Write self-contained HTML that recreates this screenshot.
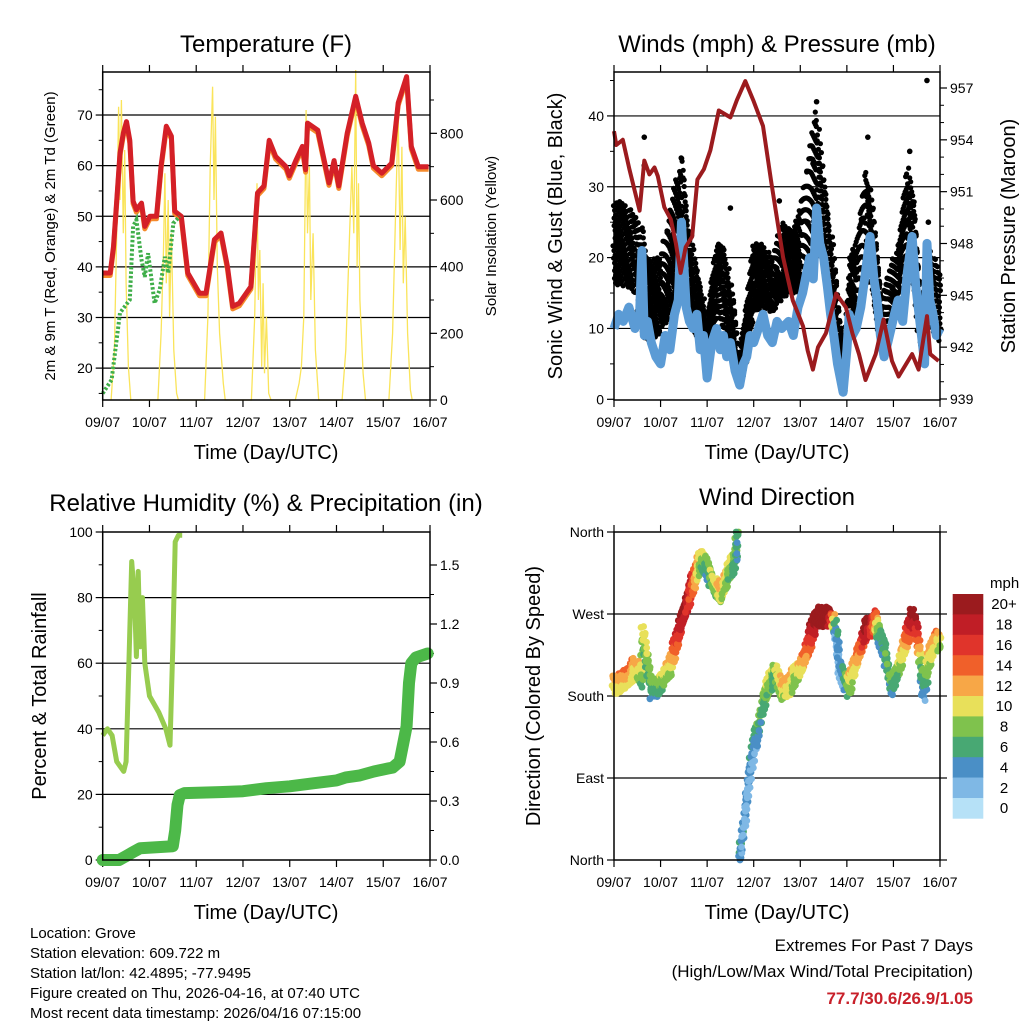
<!DOCTYPE html>
<html><head><meta charset="utf-8">
<style>
html,body{margin:0;padding:0;background:#fff;}
svg{display:block;font-family:"Liberation Sans",sans-serif;}
</style></head>
<body>
<svg id="fig" width="1024" height="1024" viewBox="0 0 1024 1024" xmlns="http://www.w3.org/2000/svg">
<rect x="0" y="0" width="1024" height="1024" fill="#fff"/>
<text x="266" y="52" font-size="24" text-anchor="middle">Temperature (F)</text>
<text x="777" y="52" font-size="24" text-anchor="middle">Winds (mph) &amp; Pressure (mb)</text>
<text x="266" y="511" font-size="24" text-anchor="middle">Relative Humidity (%) &amp; Precipitation (in)</text>
<text x="777" y="505" font-size="24" text-anchor="middle">Wind Direction</text>
<text x="266" y="459" font-size="20" text-anchor="middle">Time (Day/UTC)</text>
<text x="777" y="459" font-size="20" text-anchor="middle">Time (Day/UTC)</text>
<text x="266" y="919" font-size="20" text-anchor="middle">Time (Day/UTC)</text>
<text x="777" y="919" font-size="20" text-anchor="middle">Time (Day/UTC)</text>
<text transform="translate(55,236) rotate(-90)" font-size="15" text-anchor="middle">2m &amp; 9m T (Red, Orange) &amp; 2m Td (Green)</text>
<text transform="translate(496,236) rotate(-90)" font-size="15" text-anchor="middle">Solar Insolation (Yellow)</text>
<text transform="translate(562,236) rotate(-90)" font-size="20" text-anchor="middle">Sonic Wind &amp; Gust (Blue, Black)</text>
<text transform="translate(1015,236) rotate(-90)" font-size="20" text-anchor="middle">Station Pressure (Maroon)</text>
<text transform="translate(46,696) rotate(-90)" font-size="20" text-anchor="middle">Percent &amp; Total Rainfall</text>
<text transform="translate(540,696) rotate(-90)" font-size="20" text-anchor="middle">Direction (Colored By Speed)</text>
<text x="990" y="588" font-size="15">mph</text>
<g font-size="15">
<text x="30" y="938">Location: Grove</text>
<text x="30" y="958">Station elevation: 609.722 m</text>
<text x="30" y="978">Station lat/lon: 42.4895; -77.9495</text>
<text x="30" y="998">Figure created on Thu, 2026-04-16, at 07:40 UTC</text>
<text x="30" y="1018">Most recent data timestamp: 2026/04/16 07:15:00</text>
</g>
<text x="973" y="951" font-size="17" text-anchor="end">Extremes For Past 7 Days</text>
<text x="973" y="977" font-size="17" text-anchor="end">(High/Low/Max Wind/Total Precipitation)</text>
<text x="973" y="1004" font-size="17" font-weight="bold" fill="#c8202a" text-anchor="end">77.7/30.6/26.9/1.05</text>
<g id="layer"></g>
</svg>
<script>
// ---------- data ----------
const dayLabels = ["09/07","10/07","11/07","12/07","13/07","14/07","15/07","16/07"];
const tempT = [0,0.16,0.23,0.3,0.37,0.44,0.51,0.58,0.65,0.72,0.83,0.9,1.01,1.15,1.25,1.36,1.47,1.54,1.68,1.82,2.07,2.21,2.39,2.53,2.67,2.78,2.92,3.17,3.31,3.45,3.56,3.7,3.92,3.99,4.13,4.27,4.34,4.38,4.6,4.84,4.95,5.05,5.23,5.41,5.55,5.69,5.79,5.97,6.18,6.32,6.5,6.6,6.75,6.97];
const tempV = [38.8,38.8,44,53,62.5,66.4,68.7,65,53,51.3,52.6,48,50,50,60,67.8,65.8,51,50,38.8,34.8,34.8,45.4,46.7,40,32.2,32.8,36.1,54.6,56,65,61.8,59.8,58,61,63.8,59.2,68.4,67,56.6,61,56,66.4,73.7,68.4,64.5,60,58.5,60.5,72.4,77.6,63.8,59.8,59.8];
const dewT = [0,0.19,0.37,0.58,0.65,0.72,0.83,0.9,0.97,1.11,1.22,1.33,1.4,1.51,1.65];
const dewV = [15,17.7,30.9,33.5,48,49.3,41.4,38,42.7,32.8,35.5,42,38.8,48.6,50];
const solarT = [0.18,0.25,0.3,0.34,0.37,0.4,0.44,0.47,0.5,0.55,0.6, 1.18,1.25,1.3,1.33,1.36,1.4,1.43,1.47,1.52,1.58,1.62, 2.18,2.25,2.3,2.35,2.38,2.41,2.45,2.5,2.58,2.62, 3.18,3.25,3.3,3.33,3.36,3.4,3.43,3.46,3.5,3.55,3.6, 4.12,4.2,4.25,4.3,4.35,4.38,4.42,4.45,4.5,4.55,4.62, 5.12,5.2,5.28,5.33,5.37,5.41,5.44,5.47,5.5,5.57,5.62, 6.12,6.2,6.27,6.32,6.36,6.4,6.43,6.47,6.52,6.58,6.62];
const solarV = [0,150,500,880,600,900,500,750,350,100,0, 0,200,450,680,350,600,250,500,150,20,0, 0,250,700,940,600,850,400,200,50,0, 0,250,650,300,450,100,350,80,250,20,0, 0,50,100,250,870,500,700,300,500,150,0, 0,150,500,700,500,990,400,650,300,80,0, 0,200,600,850,450,760,350,550,200,30,0];
const presT = [0,0.05,0.19,0.33,0.55,0.65,0.76,0.87,0.94,1.08,1.22,1.33,1.43,1.54,1.68,1.79,1.93,2.07,2.25,2.5,2.64,2.82,2.99,3.2,3.38,3.63,3.84,4.06,4.16,4.27,4.38,4.55,4.77,4.98,5.12,5.26,5.4,5.62,5.79,5.97,6.11,6.4,6.54,6.72,6.79,6.97];
const presV = [954.5,953.7,954,952.3,949.9,952.8,952,952.4,951.9,950.1,949.4,948,946.3,947.8,948.4,951.7,952.3,953.4,955.7,955.3,956.3,957.4,956.3,954.8,951.5,947.2,944.7,943.2,941.8,940.7,942,942.8,945.1,944.3,942.8,941.6,940.1,941.6,943.6,941.2,940.3,941.6,940.7,943.8,941.6,941.2];
const windT = [0,0.1,0.2,0.32,0.45,0.55,0.6,0.65,0.72,0.8,0.9,1.0,1.1,1.2,1.3,1.38,1.45,1.55,1.62,1.7,1.78,1.85,1.92,2.0,2.1,2.2,2.28,2.35,2.42,2.5,2.6,2.7,2.78,2.85,2.92,3.0,3.1,3.2,3.3,3.4,3.5,3.6,3.75,3.85,3.95,4.05,4.2,4.28,4.35,4.42,4.5,4.58,4.65,4.72,4.8,4.86,4.92,5.0,5.05,5.12,5.2,5.3,5.4,5.5,5.58,5.65,5.72,5.8,5.88,5.95,6.02,6.1,6.2,6.3,6.4,6.48,6.55,6.62,6.67,6.72,6.78,6.85,6.92,7.0];
const windV = [10,12,11,13,10,12,21,9,11,8,6,5,9,7,12,14,25,13,11,10,12,7,9,3,8,10,7,9,6,8,4,2,5,6,9,8,10,12,9,8,11,10,11,9,13,15,20,17,27,22,20,16,12,9,5,3,1,7,12,9,10,13,18,23,17,14,9,6,8,10,12,14,11,18,23,16,12,8,5,22,14,12,9,10];
const gustT = [0,0.2,0.45,0.6,0.7,1.0,1.2,1.45,1.6,1.8,2.0,2.2,2.35,2.55,2.7,2.85,3.0,3.2,3.4,3.6,3.8,4.0,4.25,4.35,4.5,4.7,4.85,4.95,5.05,5.2,5.4,5.55,5.75,5.9,6.1,6.3,6.45,6.6,6.75,7.0];
const gustLo = [16,16,15,9,8,9,12,15,12,8,5,12,10,5,2,5,12,13,12,14,15,15,22,25,18,10,3,1,10,12,17,15,6,10,13,20,15,5,10,8];
const gustHi = [28,28,26,25,20,20,27,35,25,18,12,22,22,15,6,15,22,22,20,25,24,27,38,41,32,22,12,8,20,22,33,28,15,18,22,33,28,15,22,18];
const gustOutT = [0.65,0.65,1.45,2.5,3.55,4.35,5.45,6.35,6.72,6.75];
const gustOutV = [37,33,34,27,28,42,37,35,45,25];
const rhT = [0,0.1,0.2,0.3,0.45,0.5,0.56,0.62,0.68,0.72,0.76,0.8,0.85,0.9,1.0,1.2,1.35,1.44,1.5,1.55,1.62,1.7];
const rhV = [38,40,38,30,27,30,60,91,80,62,88,65,80,60,50,45,40,35,65,97,99,99];
const rainT = [0,0.35,0.5,0.65,0.8,1.5,1.55,1.6,1.65,1.75,2.5,3.0,3.5,4.0,4.5,5.0,5.2,5.5,5.8,6.1,6.2,6.35,6.45,6.5,6.55,6.6,6.7,6.95];
const rainV = [0,0,0.02,0.04,0.06,0.07,0.15,0.28,0.33,0.34,0.345,0.35,0.365,0.375,0.39,0.405,0.42,0.43,0.45,0.465,0.47,0.5,0.62,0.68,0.9,1.0,1.03,1.05];
const dirT = [0,0.3,0.45,0.6,0.62,0.8,1.0,1.2,1.35,1.5,1.65,1.85,2.0,2.15,2.3,2.45,2.6,2.67,2.7,2.8,2.9,3.0,3.1,3.2,3.3,3.45,3.6,3.75,3.9,4.05,4.2,4.35,4.5,4.65,4.75,4.85,4.95,5.05,5.15,5.3,5.4,5.5,5.6,5.7,5.8,5.95,6.1,6.25,6.4,6.5,6.6,6.65,6.75,6.9,7.0];
const dirV = [192,200,212,200,250,187,194,212,242,271,297,330,322,300,293,315,330,359,4,44,88,125,143,172,190,205,187,190,205,216,242,267,267,267,253,209,198,190,212,234,253,256,264,245,234,190,209,238,267,249,212,183,220,242,238];
const dirSpd = [11,12,11,8,9,6,8,10,16,20,16,9,6,8,11,9,7,5,5,3,3,4,6,7,9,7,10,11,9,12,16,21,22,19,4,2,5,9,11,14,20,18,14,5,5,6,8,12,20,16,7,4,10,12,9];
const cbLabels = ["20+","18","16","14","12","10","8","6","4","2","0"];
const cbColors = ["#9b1b1e","#c01e26","#e0342b","#f0602a","#f7a747","#e8e05a","#7fc24d","#48a873","#4a8fc6","#7fb8e5","#b6e1f7"];

// ---------- helpers ----------
const NS="http://www.w3.org/2000/svg";
const layer=document.getElementById('layer');
function mk(tag,attrs,parent){const e=document.createElementNS(NS,tag);for(const k in attrs)e.setAttribute(k,attrs[k]);(parent||layer).appendChild(e);return e;}
function lin(d0,d1,r0,r1){return v=>r0+(v-d0)*(r1-r0)/(d1-d0);}
function interp(T,V,t){if(t<=T[0])return V[0];for(let i=1;i<T.length;i++){if(t<=T[i]){const f=(t-T[i-1])/(T[i]-T[i-1]);return V[i-1]+f*(V[i]-V[i-1]);}}return V[V.length-1];}
function pathOf(T,V,sx,sy){return T.map((t,i)=>(i?'L':'M')+sx(t).toFixed(1)+','+sy(V[i]).toFixed(1)).join('');}

const P1={x0:102.7,x1:430,y0:72,y1:400}, P2={x0:614,x1:940,y0:72,y1:400};
const P3={x0:102.7,x1:430,y0:532,y1:860}, P4={x0:614,x1:940,y0:532,y1:860};

function frame(P,name,grid,sy,leftTicks,leftLabels,rightTicks,rightLabels,sy2,minorL,minorR){
  const g=mk('g',{});
  
  
  const sx=lin(0,7,P.x0,P.x1);
  grid.forEach(v=>{const l=mk('line',{x1:P.x0,x2:P.x1,y1:sy(v),y2:sy(v),stroke:'#000','stroke-width':1.2},g);
    
    });
  dayLabels.forEach((lab,i)=>{const x=sx(i);
    mk('line',{x1:x,x2:x,y1:P.y1,y2:P.y1+7,stroke:'#000','stroke-width':1.2},g);
    mk('line',{x1:x,x2:x,y1:P.y0,y2:P.y0-7,stroke:'#000','stroke-width':1.2},g);
    const t=mk('text',{x:x,y:P.y1+27,'font-size':14,'text-anchor':'middle'},g);t.textContent=lab;
    
    });
  (minorL||[]).forEach(v=>mk('line',{x1:P.x0,x2:P.x0-4,y1:sy(v),y2:sy(v),stroke:'#000','stroke-width':1},g));
  leftTicks.forEach((v,i)=>{const y=sy(v);
    mk('line',{x1:P.x0,x2:P.x0-7,y1:y,y2:y,stroke:'#000','stroke-width':1.2},g);
    const t=mk('text',{x:P.x0-10,y:y+5,'font-size':14,'text-anchor':'end'},g);t.textContent=leftLabels[i];
    
    });
  (minorR||[]).forEach(v=>mk('line',{x1:P.x1,x2:P.x1+4,y1:sy2(v),y2:sy2(v),stroke:'#000','stroke-width':1},g));
  rightTicks.forEach((v,i)=>{const y=sy2(v);
    mk('line',{x1:P.x1,x2:P.x1+7,y1:y,y2:y,stroke:'#000','stroke-width':1.2},g);
    if(rightLabels){const t=mk('text',{x:P.x1+10,y:y+5,'font-size':14},g);t.textContent=rightLabels[i];
    
    }});
  return sx;
}
function border(P){const r=mk('rect',{x:P.x0,y:P.y0,width:P.x1-P.x0,height:P.y1-P.y0,fill:'none',stroke:'#000','stroke-width':1.5});
  
  }

// ---------- panel 1 ----------
{
  const syT=lin(13.7,78.5,P1.y1,P1.y0), syS=lin(0,984,P1.y1,P1.y0);
  const sx=frame(P1,'temperature-axes',[20,30,40,50,60,70],syT,[20,30,40,50,60,70],["20","30","40","50","60","70"],[0,200,400,600,800],["0","200","400","600","800"],syS,[15,25,35,45,55,65,75],[100,300,500,700,900]);
  const s=mk('path',{d:pathOf(solarT,solarV,sx,syS),fill:'none',stroke:'#fae45a','stroke-width':1.3});
  
  
  const o=mk('path',{d:pathOf(tempT,tempV.map(v=>v-0.5),sx,syT),fill:'none',stroke:'#f58a2b','stroke-width':5,'stroke-linejoin':'round'});
  
  
  const r=mk('path',{d:pathOf(tempT,tempV,sx,syT),fill:'none',stroke:'#d42027','stroke-width':5,'stroke-linejoin':'round'});
  
  
  const d=mk('path',{d:pathOf(dewT,dewV,sx,syT),fill:'none',stroke:'#3fae49','stroke-width':4,'stroke-dasharray':'2.5 2'});
  
  
  border(P1);
}
// ---------- panel 2 ----------
{
  const syW=lin(0,46.2,P2.y1-0.7,P2.y0), syP=lin(939,957,P2.y1-1,88);
  const sx=frame(P2,'winds-axes',[10,20,30,40],syW,[0,10,20,30,40],["0","10","20","30","40"],[939,942,945,948,951,954,957],["939","942","945","948","951","954","957"],syP,[5,15,25,35,45],[940,941,943,944,946,947,949,950,952,953,955,956]);
  const gg=mk('g',{fill:'#000'});
  
  
  let k=0;
  for(let t=0;t<=7.0001;t+=0.01){k++;
    const lo=interp(gustT,gustLo,t), hi=interp(gustT,gustHi,t);
    for(let j=0;j<4;j++){
      const ff=((k*4+j)*0.61803)%1;
      const xj=(((k*4+j)*0.7548)%1-0.5)*2;
      const c=mk('circle',{cx:(sx(t)+xj).toFixed(1),cy:syW(lo+(hi-lo)*ff).toFixed(1),r:2.6},gg);
      
    }
  }
  gustOutT.forEach((t,i)=>{const c=mk('circle',{cx:sx(t),cy:syW(gustOutV[i]),r:2.8},gg);
    });
  const b=mk('path',{d:pathOf(windT,windV,sx,syW),fill:'none',stroke:'#5b9bd5','stroke-width':9,'stroke-linejoin':'round'});
  
  
  const p=mk('path',{d:pathOf(presT,presV,sx,syP),fill:'none',stroke:'#9b1b1e','stroke-width':4,'stroke-linejoin':'round'});
  
  
  border(P2);
}
// ---------- panel 3 ----------
{
  const syR=lin(0,100,P3.y1,P3.y0), syI=lin(0,1.5,P3.y1,565);
  const sx=frame(P3,'humidity-axes',[20,40,60,80],syR,[0,20,40,60,80,100],["0","20","40","60","80","100"],[0,0.3,0.6,0.9,1.2,1.5],["0.0","0.3","0.6","0.9","1.2","1.5"],syI,[10,30,50,70,90],[0.15,0.45,0.75,1.05,1.35]);
  const rh=mk('path',{d:pathOf(rhT,rhV,sx,syR),fill:'none',stroke:'#97cc4f','stroke-width':5,'stroke-linejoin':'round'});
  
  
  const pr=mk('path',{d:pathOf(rainT,rainV,sx,syI),fill:'none',stroke:'#4cb848','stroke-width':12,'stroke-linejoin':'round','stroke-linecap':'round'});
  
  
  border(P3);
}
// ---------- panel 4 ----------
{
  const syD=lin(0,360,P4.y1,P4.y0);
  const sx=frame(P4,'direction-axes',[90,180,270],syD,[0,90,180,270,360],["North","East","South","West","North"],[0,90,180,270,360],null,syD);
  const color=s=>cbColors[10-Math.max(0,Math.min(10,Math.floor((s+1)/2)))];
  const gd=mk('g',{});
  
  
  let k=0;
  for(let i=1;i<dirT.length;i++){
    if(Math.abs(dirV[i]-dirV[i-1])>180)continue;
    for(let t=dirT[i-1];t<dirT[i];t+=0.012){k++;
      const f=(t-dirT[i-1])/(dirT[i]-dirT[i-1]);
      const dv=dirV[i-1]+f*(dirV[i]-dirV[i-1]), sv=dirSpd[i-1]+f*(dirSpd[i]-dirSpd[i-1]);
      for(let j=0;j<3;j++){
        const u=((k*3+j)*0.61803)%1-0.5;
        const w=((k*3+j)*0.7548)%1-0.5;
        const c=mk('circle',{cx:(sx(t)+w*4).toFixed(1),cy:syD(Math.min(360,Math.max(0,dv+u*22))).toFixed(1),r:3.4,fill:color(sv+u*4)},gd);
        
      }
    }
  }
  border(P4);
  const cb=mk('g',{});
  
  
  const h=20.4;
  cbColors.forEach((c,i)=>{const r=mk('rect',{x:952.7,y:594+i*h,width:30.6,height:h+0.3,fill:c},cb);
    
    const t=mk('text',{x:1004,y:594+i*h+h/2+5,'font-size':15,'text-anchor':'middle'},cb);t.textContent=cbLabels[i];
    });
}
</script>
</body></html>
